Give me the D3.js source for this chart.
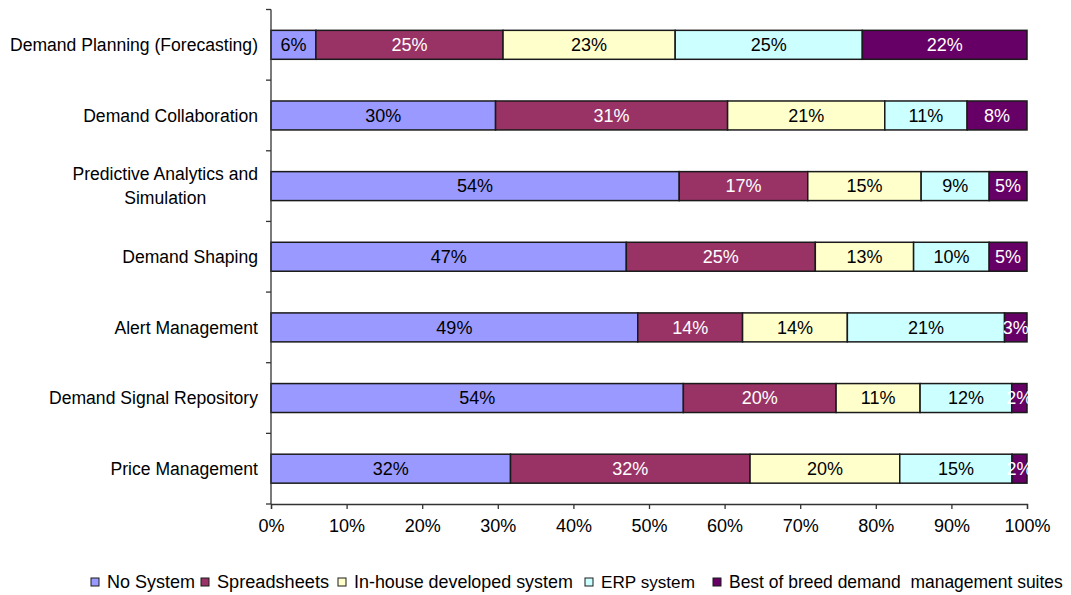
<!DOCTYPE html>
<html>
<head>
<meta charset="utf-8">
<script src="https://cdn.jsdelivr.net/npm/d3@7"></script>
<style>
  html, body { margin: 0; padding: 0; background: #fff; }
  svg { display: block; font-family: "Liberation Sans", Arial, sans-serif; }
</style>
</head>
<body>
<svg id="chart" width="1071" height="595"></svg>
<script>
// Survey categories, top to bottom
const categories = [
  "Demand Planning (Forecasting)",
  "Demand Collaboration",
  "Predictive Analytics and\nSimulation",
  "Demand Shaping",
  "Alert Management",
  "Demand Signal Repository",
  "Price Management"
];

// Share of respondents per system type (%)
const noSystem     = [6, 30, 54, 47, 49, 54, 32];
const spreadsheets = [25, 31, 17, 25, 14, 20, 32];
const inHouse      = [23, 21, 15, 13, 14, 11, 20];
const erpSystem    = [25, 11, 9, 10, 21, 12, 15];
const bestOfBreed  = [22, 8, 5, 5, 3, 2, 2];

const seriesNames = [
  "No System",
  "Spreadsheets",
  "In-house developed system",
  "ERP system",
  "Best of breed demand  management suites"
];
const seriesValues = [noSystem, spreadsheets, inHouse, erpSystem, bestOfBreed];
const seriesColors = ["#9999FF", "#993366", "#FFFFCC", "#CCFFFF", "#660066"];
const labelColors  = ["#000", "#fff", "#000", "#000", "#fff"];

const xTicks = [0, 0.1, 0.2, 0.3, 0.4, 0.5, 0.6, 0.7, 0.8, 0.9, 1];

// Build rows for the stack layout
const keys = seriesNames;
const rows = categories.map((c, i) => {
  const r = { category: c };
  keys.forEach((k, j) => { r[k] = seriesValues[j][i]; });
  return r;
});

const stacked = d3.stack().keys(keys).offset(d3.stackOffsetExpand)(rows);

const svg = d3.select("#chart");
const plotLeft = 271, plotRight = 1027, plotTop = 9.5, plotBottom = 504;

const x = d3.scaleLinear().domain([0, 1]).range([plotLeft, plotRight]);
const y = d3.scaleBand().domain(categories).range([plotTop, plotBottom])
  .paddingInner(0.59).paddingOuter(0.295);

const color = d3.scaleOrdinal().domain(keys).range(seriesColors);
const textColor = d3.scaleOrdinal().domain(keys).range(labelColors);

// Stacked bars
const layer = svg.append("g").selectAll("g")
  .data(stacked).join("g")
  .attr("fill", d => color(d.key));

layer.selectAll("rect")
  .data(d => d)
  .join("rect")
  .attr("x", d => x(d[0]))
  .attr("y", d => y(d.data.category))
  .attr("width", d => x(d[1]) - x(d[0]))
  .attr("height", y.bandwidth())
  .attr("stroke", "#1a1a1a")
  .attr("stroke-width", 1.5);

// Value labels centred in each segment
const labels = svg.append("g")
  .attr("font-size", 18)
  .attr("text-anchor", "middle");
stacked.forEach(ser => {
  labels.selectAll(null)
    .data(ser)
    .join("text")
    .attr("x", d => (x(d[0]) + x(d[1])) / 2)
    .attr("y", d => y(d.data.category) + y.bandwidth() / 2)
    .attr("dy", "0.35em")
    .attr("fill", textColor(ser.key))
    .text(d => d.data[ser.key] + "%");
});

// X axis
const xAxis = svg.append("g")
  .attr("transform", `translate(0,${plotBottom})`)
  .call(d3.axisBottom(x).tickValues(xTicks).tickFormat(d3.format(".0%")).tickSize(5).tickPadding(10));
xAxis.select(".domain").attr("stroke", "#333").attr("stroke-width", 1.3);
xAxis.selectAll(".tick line").attr("stroke", "#333").attr("stroke-width", 1.3);
xAxis.selectAll(".tick text")
  .attr("font-size", 18).attr("font-family", "Liberation Sans, Arial, sans-serif").attr("fill", "#000");

// Y axis: line plus ticks at category boundaries
const yAxis = svg.append("g");
yAxis.append("line")
  .attr("x1", plotLeft).attr("x2", plotLeft)
  .attr("y1", plotTop).attr("y2", plotBottom)
  .attr("stroke", "#333").attr("stroke-width", 1.3);
const boundaries = d3.range(categories.length + 1).map(i => plotTop + i * y.step());
yAxis.selectAll(".ytick")
  .data(boundaries).join("line")
  .attr("x1", plotLeft - 5).attr("x2", plotLeft)
  .attr("y1", d => d).attr("y2", d => d)
  .attr("stroke", "#333").attr("stroke-width", 1.3);

// Category labels, multi-line labels centred on each other, slightly condensed
const catG = svg.append("g").attr("font-size", 18).attr("fill", "#000");
const squeeze = 0.976;
categories.forEach(c => {
  const lines = c.split("\n");
  const cy = y(c) + y.bandwidth() / 2;
  const lh = 24;
  const t = catG.append("text").attr("text-anchor", "middle");
  const spans = lines.map((ln, i) => t.append("tspan")
    .attr("y", cy + (i - (lines.length - 1) / 2) * lh)
    .attr("dy", "0.35em")
    .text(ln));
  const widths = spans.map(s => s.node().getComputedTextLength() * squeeze);
  const maxW = d3.max(widths);
  spans.forEach((s, i) => s.attr("x", 258 - maxW / 2)
    .attr("textLength", widths[i]).attr("lengthAdjust", "spacingAndGlyphs"));
});

// Legend: each entry fitted to its slot width
const legendX = [91, 201, 338, 585, 713];
const legendW = [88, 112, 219, 94, 334];
const legend = svg.append("g");
keys.forEach((k, i) => {
  legend.append("rect")
    .attr("x", legendX[i]).attr("y", 578)
    .attr("width", 8).attr("height", 8)
    .attr("fill", color(k))
    .attr("stroke", "#1a1a1a").attr("stroke-width", 1);
  const t = legend.append("text")
    .attr("x", legendX[i] + 16).attr("y", 582)
    .attr("dy", "0.35em")
    .attr("font-size", 18)
    .attr("fill", "#000")
    .style("white-space", "pre")
    .text(k);
  const natural = t.node().getComputedTextLength();
  if (natural > legendW[i]) {
    t.attr("font-size", 18 * legendW[i] / natural);
  } else {
    t.attr("textLength", legendW[i]).attr("lengthAdjust", "spacingAndGlyphs");
  }
});
</script>
</body>
</html>
